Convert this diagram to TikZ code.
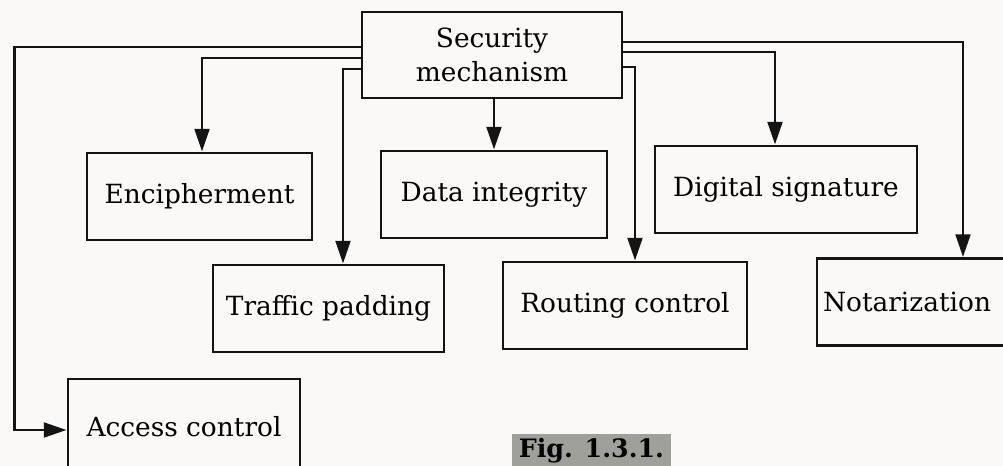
\documentclass[tikz,border=0pt]{standalone}
\usepackage{fontspec}
\setmainfont{DejaVu Serif}
\usetikzlibrary{arrows.meta,calc}
\begin{document}
\begin{tikzpicture}[x=0.75pt,y=-0.75pt,
  box/.style={draw={rgb,255:red,20;green,20;blue,20}, line width=2.2pt, minimum height={87*0.75pt}, inner sep=0pt,
    font=\fontsize{19.8}{25.5}\selectfont, align=center},
  arr/.style={draw={rgb,255:red,20;green,20;blue,20}, line width=2.2pt, -{Triangle[length=17pt,width=11pt]}},
  figlabel/.style={fill={rgb,255:red,160;green,160;blue,155}, font=\bfseries\fontsize{19}{24}\selectfont,
    inner xsep=4.9pt, inner ysep=3pt, anchor=north west}
]
\path[use as bounding box, fill={rgb,255:red,251;green,249;blue,247}] (0,0) rectangle (1003,466);
\clip (0,0) rectangle (1003,466);

\node[box, minimum width={260*0.75pt}, minimum height={86*0.75pt}] (sec) at (492,55) {Security\\mechanism};
\node[box, minimum width={225*0.75pt}] (enc) at (199.5,196.5) {Encipherment};
\node[box, minimum width={226*0.75pt}] (dat) at (494,194.5) {Data integrity};
\node[box, minimum width={262*0.75pt}] (dig) at (786,189.5) {Digital signature};
\node[box, minimum width={231*0.75pt}] (tra) at (328.5,308.5) {Traffic padding};
\node[box, minimum width={244*0.75pt}] (rou) at (625,305.5) {Routing control};
\node[box, minimum width={195*0.75pt}, text width={183*0.75pt}, align=left] (nota) at (914.5,302) {Notarization};
\node[box, minimum width={232*0.75pt}, minimum height={96*0.75pt}] (acc) at (184,427) {Access control};

\draw[arr] ($(sec.west)+(0,-8)$) -| ($(acc.west)+(-52,3)$) -- ($(acc.west)+(0,3)$);
\draw[arr] ($(sec.west)+(0,3)$) -| ($(enc.north)+(2.5,0)$);
\draw[arr] ($(sec.west)+(0,14)$) -| ($(tra.north)+(14.5,0)$);
\draw[arr] (dat.north |- sec.south) -- (dat.north);
\draw[arr] ($(sec.east)+(0,12)$) -| ($(rou.north)+(10,0)$);
\draw[arr] ($(sec.east)+(0,-3)$) -| ($(dig.north)+(-11,0)$);
\draw[arr] ($(sec.east)+(0,-13)$) -| ($(nota.north)+(48.5,0)$);

\node[figlabel] (fig) at (512,434) {Fig. 1.3.1.};
\end{tikzpicture}
\end{document}
